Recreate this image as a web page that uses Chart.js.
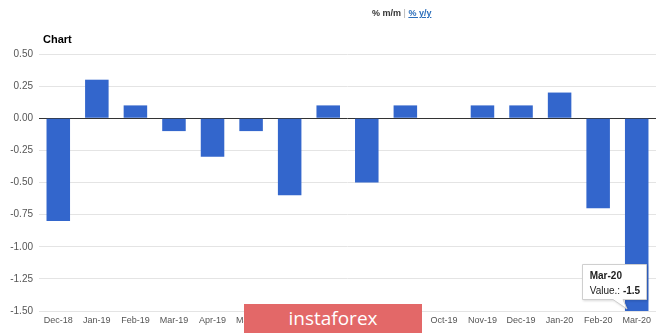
<!DOCTYPE html>
<html>
<head>
<meta charset="utf-8">
<script src="https://cdn.jsdelivr.net/npm/chart.js@4/dist/chart.umd.min.js"></script>
<style>
  html, body { margin: 0; padding: 0; background: #fff; }
  #wrap { position: relative; width: 665px; height: 335px; overflow: hidden; font-family: Arial, "Liberation Sans", sans-serif; }
  #c { position: absolute; left: 0; top: 0; }
  #hdr { position: absolute; left: 372px; top: 8px; font-size: 9px; font-weight: bold; color: #333; white-space: nowrap; }
  #hdr .sep { color: #aaa; font-weight: normal; }
  #hdr a { color: #2a6ebb; text-decoration: underline; }
  #ttl { position: absolute; left: 43px; top: 33px; font-size: 11px; font-weight: bold; color: #000; }
  #wm { position: absolute; left: 244px; top: 304px; width: 178px; height: 29px; background: #e36868; color: #fff;
        font-family: "Open Sans", "DejaVu Sans", sans-serif; font-size: 19px; line-height: 29px; text-align: center; letter-spacing: 0px; }
  #tip { position: absolute; display: none; }
  #tip svg { position: absolute; left: 0; top: 0; overflow: visible; }
  #tip .txt { position: absolute; left: 8px; top: 4px; font-size: 10px; line-height: 15px; color: #222; white-space: nowrap; }
</style>
</head>
<body>
<div id="wrap">
  <canvas id="c" width="665" height="335"></canvas>
  <div id="hdr">% m/m <span class="sep">|</span> <a>% y/y</a></div>
  <div id="ttl">Chart</div>
  <div id="tip"></div>
  <div id="wm">instaforex</div>
</div>
<script>
const categories = ["Dec-18","Jan-19","Feb-19","Mar-19","Apr-19","May-19","Jun-19","Jul-19","Aug-19","Sep-19","Oct-19","Nov-19","Dec-19","Jan-20","Feb-20","Mar-20"];
const values = [-0.8, 0.3, 0.1, -0.1, -0.3, -0.1, -0.6, 0.1, -0.5, 0.1, 0, 0.1, 0.1, 0.2, -0.7, -1.5];
const yTicks = [0.5, 0.25, 0, -0.25, -0.5, -0.75, -1.0, -1.25, -1.5];
const tooltipIndex = 15;

const tipPlugin = {
  id: 'tipPlugin',
  afterRender(chart) {
    const xs = chart.scales.x, ys = chart.scales.y;
    const xc = xs.getPixelForValue(tooltipIndex);
    const yb = ys.getPixelForValue(values[tooltipIndex]);
    const w = 65, h = 36;
    const left = xc - 55, top = yb - 47;
    const tip = document.getElementById('tip');
    tip.style.display = 'block';
    tip.style.left = left + 'px';
    tip.style.top = top + 'px';
    const bx0 = 31, bx1 = 41, tx = 45, ty = yb - top - 2;
    tip.innerHTML =
      '<svg width="' + w + '" height="' + (ty + 2) + '">' +
      '<path d="M0.5 0.5 H' + (w - 0.5) + ' V' + (h - 0.5) + ' H' + bx1 + ' L' + tx + ' ' + ty + ' L' + bx0 + ' ' + (h - 0.5) + ' H0.5 Z" ' +
      'fill="#fff" stroke="#cfcfcf" stroke-width="1" style="filter: drop-shadow(1px 1px 1px rgba(0,0,0,0.15))"/></svg>' +
      '<div class="txt"><b>' + categories[tooltipIndex] + '</b><br>Value.: <b>' + values[tooltipIndex] + '</b></div>';
  }
};

new Chart(document.getElementById('c'), {
  type: 'bar',
  data: {
    labels: categories,
    datasets: [{
      data: values,
      backgroundColor: '#3366cc',
      borderWidth: 0,
      categoryPercentage: 0.61,
      barPercentage: 1.0
    }]
  },
  options: {
    responsive: false,
    animation: false,
    layout: { padding: { top: 54, right: 9, left: 0, bottom: 0 } },
    plugins: { legend: { display: false }, tooltip: { enabled: false } },
    scales: {
      x: {
        grid: { display: false, drawTicks: false },
        border: { display: false },
        ticks: { color: '#555', font: { family: 'Arial', size: 9 }, maxRotation: 0, autoSkip: false, padding: 4 },
        afterFit(s) { s.height = 24; }
      },
      y: {
        min: -1.5, max: 0.5,
        afterBuildTicks(s) { s.ticks = yTicks.map(v => ({ value: v })); },
        grid: {
          color: ctx => (ctx.tick && ctx.tick.value === 0) ? '#333' : '#e4e4e4',
          lineWidth: 1,
          drawTicks: false
        },
        border: { display: false },
        ticks: { color: '#555', font: { family: 'Arial', size: 10 }, padding: 6, callback: v => v.toFixed(2) },
        afterFit(s) { s.width = 39; }
      }
    }
  },
  plugins: [tipPlugin]
});
</script>
</body>
</html>
